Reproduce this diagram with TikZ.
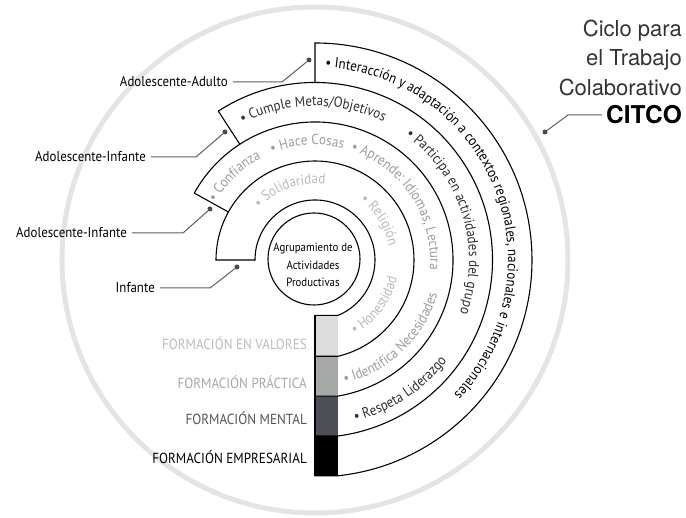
\documentclass[tikz,border=0pt]{standalone}
\usepackage{fontspec}
\setmainfont{PT Sans}[FakeStretch=0.9]
\newfontfamily\headfont{TeX Gyre Heros}
\usetikzlibrary{decorations.text}

\definecolor{ringgray}{HTML}{E4E4E4}
\definecolor{valbox}{HTML}{DCDCDC}
\definecolor{pracbox}{HTML}{A7A9A9}
\definecolor{menbox}{HTML}{4C5056}
\definecolor{valtext}{HTML}{BBBBBB}
\definecolor{practext}{HTML}{A6A6A6}
\definecolor{mentext}{HTML}{50535A}
\definecolor{bandone}{HTML}{BABABA}
\definecolor{bandtwo}{HTML}{9C9C9C}
\definecolor{bandthree}{HTML}{2F2F2F}
\definecolor{leadgray}{HTML}{5E5E5E}
\definecolor{pingray}{HTML}{4A4A4A}

\newcommand\arcfont{\fontsize{14.5}{17}\selectfont}

\tikzset{
  ring/.style={line width=1.1pt, line cap=round},
  lbl/.style={font=\fontsize{14.3}{17}\selectfont, inner xsep=5pt, inner ysep=1pt},
  formlbl/.style={font=\fontsize{14.6}{17}\selectfont, anchor=east, inner sep=0pt},
  leader/.style={draw=leadgray, line width=1pt},
  pin/.style={circle, fill=pingray, inner sep=0pt, minimum size=5pt},
  arctext/.style={decorate, decoration={text along path, text={#1}}},
  title/.style={font=\headfont\fontsize{22}{26}\selectfont, text=black!80, inner sep=0pt}
}

\begin{document}
\begin{tikzpicture}[x=1pt,y=1pt]
\useasboundingbox (-315,-258) rectangle (371,260);

% big ring behind everything
\draw[ringgray, line width=5pt] (0,0) circle[radius=253pt];

% stacked bar
\fill[valbox] (0,-55.42) rectangle (23,-96.29);
\fill[pracbox] (0,-96.29) rectangle (23,-136.07);
\fill[menbox] (0,-136.07) rectangle (23,-176.0);
\fill[black] (0,-176.0) rectangle (23,-215.78);
\draw[ring] (0,-55.42) -- (0,-215.78);

% spiral bands
\foreach \r/\s in {60pt/180, 99pt/180, 138pt/151, 177.5pt/123, 217pt/90}
  \draw[ring] (\s:\r) arc[start angle=\s, end angle={-90+asin(23/\r)}, radius=\r] -- ++(-23pt,0);
\draw[ring] (180:60pt) -- (180:99pt)
  (151:99pt) -- (151:138pt)
  (123:138pt) -- (123:177.5pt)
  (90:177.5pt) -- (90:217pt);

% centre
\node[draw, circle, line width=1.1pt, minimum size=92pt, fill=white] (core) at (-1,1) {};
\node[align=center, font=\fontsize{12}{17.5}\selectfont] (coretext) at (-2,-5)
  {Agrupamiento de\\Actividades\\Productivas};

% band 1
\path[arctext={|\arcfont\color{bandone}|• Solidaridad}] (137:76pt) arc[start angle=137, end angle=-90, radius=76pt];
\path[arctext={|\arcfont\color{bandone}|• Religión}] (53:75pt) arc[start angle=53, end angle=-90, radius=75pt];
\path[arctext={|\arcfont\color{bandone}|• Honestidad}] (-62:84pt) arc[start angle=-62, end angle=10, radius=84pt];
% band 2
\path[arctext={|\arcfont\color{bandtwo}|• Confianza}] (150:115pt) arc[start angle=150, end angle=-90, radius=115pt];
\path[arctext={|\arcfont\color{bandtwo}|• Hace Cosas}] (112:115pt) arc[start angle=112, end angle=-90, radius=115pt];
\path[arctext={|\arcfont\color{bandtwo}|• Aprende: Idiomas, Lectura}] (72:115pt) arc[start angle=72, end angle=-90, radius=115pt];
\path[arctext={|\arcfont\color{bandtwo}|• Identifica Necesidades}] (-76.5:127pt) arc[start angle=-76.5, end angle=10, radius=127pt];
% band 3
\path[arctext={|\arcfont\color{bandthree}|• Cumple Metas/Objetivos}] (118:154pt) arc[start angle=118, end angle=-90, radius=154pt];
\path[arctext={|\arcfont\color{bandthree}|• Participa en actividades del grupo}] (54:154pt) arc[start angle=54, end angle=-90, radius=154pt];
\path[arctext={|\arcfont\color{bandthree}|• Respeta Liderazgo}] (-76:166pt) arc[start angle=-76, end angle=10, radius=166pt];
% band 4
\path[arctext={|\arcfont|• Interacción y adaptación a contextos regionales, nacionales e internacionales}] (87:193pt) arc[start angle=87, end angle=-90, radius=193pt];

% bar labels
\node[formlbl, text=valtext] (fval) at (-8,-83) {FORMACIÓN EN VALORES};
\node[formlbl, text=practext] (fprac) at (-8,-122) {FORMACIÓN PRÁCTICA};
\node[formlbl, text=mentext] (fmen) at (-8,-158) {FORMACIÓN MENTAL};
\node[formlbl, text=black] (femp) at (-8,-197) {FORMACIÓN EMPRESARIAL};

% stages
\node[pin] (pinf) at (-78,-7) {};
\node[lbl, anchor=east] (linf) at (-155,-28) {Infante};
\draw[leader] (linf.east) -- ++(50,0) -- (pinf);

\node[pin] (padi) at (-105,51) {};
\node[lbl, anchor=east] (ladi) at (-183,27) {Adolescente-Infante};
\draw[leader] (ladi.east) -- ++(51,0) -- (padi);

\node[pin] (padii) at (-90,128) {};
\node[lbl, anchor=east] (ladii) at (-164,103) {Adolescente-Infante};
\draw[leader] (ladii.east) -- ++(45,0) -- (padii);

\node[pin] (pada) at (-6,200) {};
\node[lbl, anchor=east] (lada) at (-82,178) {Adolescente-Adulto};
\draw[leader] (lada.east) -- ++(49,0) -- (pada);

% title
\node[title, anchor=base east] (tone) at (367,223) {Ciclo para};
\node[title, anchor=base east] (ttwo) at (367,194) {el Trabajo};
\node[title, anchor=base east] (tthree) at (367,164) {Colaborativo};
\node[pin] (pcitco) at (230,128) {};
\node[font=\headfont\bfseries\fontsize{24.5}{27}\selectfont, anchor=west, inner xsep=4pt, inner ysep=0pt] (citco) at (287,145) {CITCO};
\draw[leader] (pcitco) -- (253,145) -- (citco.west);
\end{tikzpicture}
\end{document}
